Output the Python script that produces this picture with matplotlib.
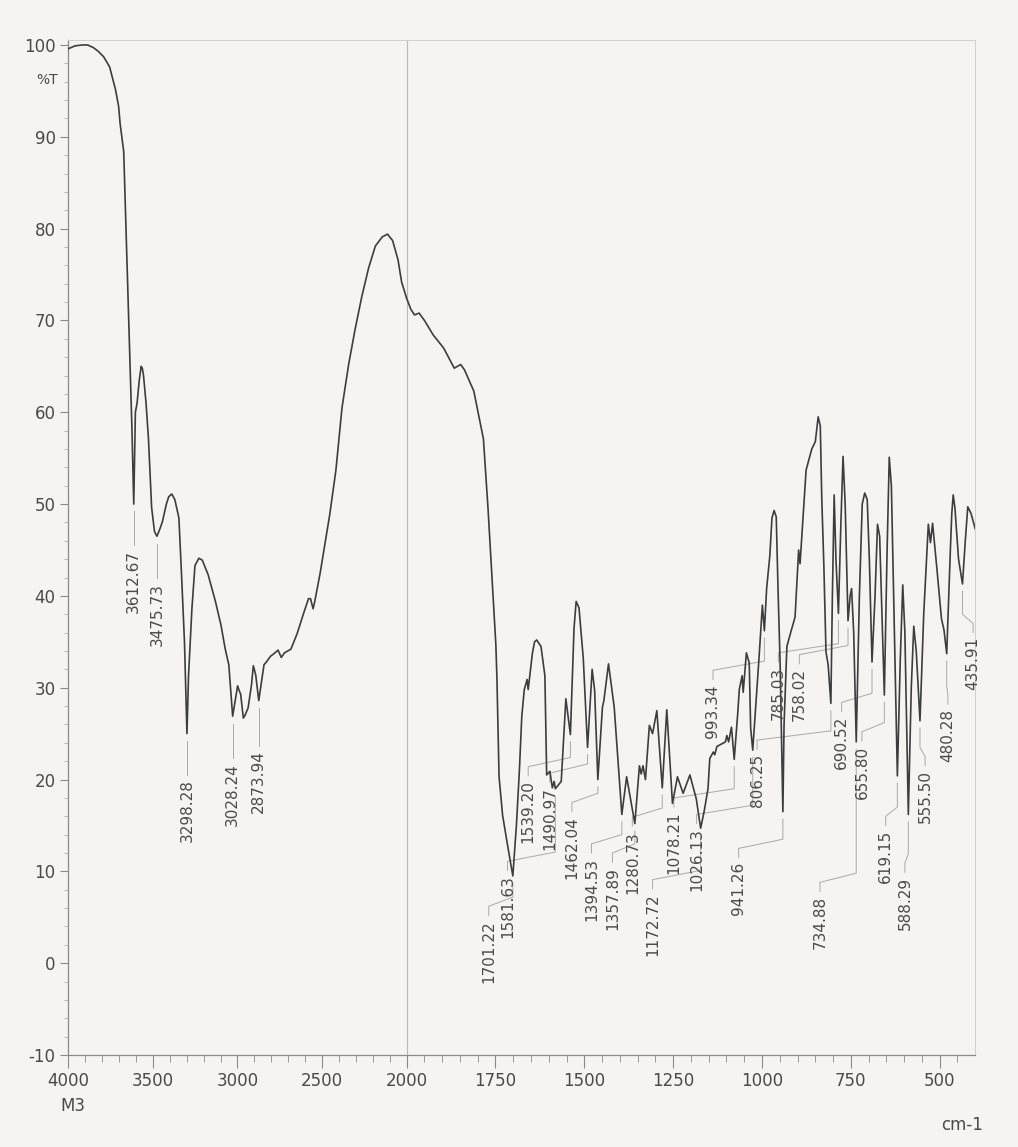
"""FTIR transmittance spectrum (4000-400 cm-1) with peak labels, Shimadzu-style layout."""

import numpy as np
import matplotlib

matplotlib.use("Agg")
import matplotlib.pyplot as plt

# Spectrum trace, wavenumber in cm-1 (descending) and %T
WAVENUMBER = [
    3998, 3960, 3917, 3885, 3850, 3822, 3790, 3755, 3720, 3702, 3693, 3672,
    3661, 3643, 3624, 3612.67, 3603, 3593, 3580, 3569, 3562, 3555, 3540, 3526,
    3507, 3490, 3475.73, 3460, 3443, 3420, 3406, 3388, 3370, 3346, 3330, 3313,
    3298.28, 3289, 3269, 3251, 3228, 3208, 3173, 3130, 3097, 3073, 3051,
    3028.24, 2999, 2990, 2981, 2965, 2955, 2946, 2937, 2917, 2906, 2892,
    2873.94, 2852, 2843, 2825, 2806, 2778, 2760, 2741, 2722, 2684, 2647, 2609,
    2580, 2568, 2553, 2544, 2511, 2455, 2418, 2382, 2342, 2305, 2265, 2225,
    2185, 2144, 2113, 2083, 2051, 2030, 2010, 2000,
    1988, 1978, 1965, 1950, 1925, 1896, 1866, 1848, 1837, 1811, 1784, 1771,
    1757, 1749, 1746, 1740, 1730, 1718, 1701.22, 1691, 1683, 1676, 1669, 1661,
    1658, 1646, 1640, 1634, 1622, 1611, 1606, 1597, 1590, 1585, 1581.63, 1565,
    1552, 1539.20, 1529, 1523, 1515, 1503, 1490.97, 1478, 1471, 1462.04, 1449,
    1445, 1432, 1416, 1394.53, 1381, 1357.89, 1345, 1340, 1335, 1328, 1317,
    1308, 1296, 1280.73, 1268, 1252, 1238, 1222, 1203, 1185, 1172.72, 1163,
    1152, 1147, 1137, 1133, 1127, 1103, 1099, 1094, 1086, 1078.21, 1068, 1064,
    1056, 1053, 1044, 1036, 1032, 1026.13, 1008, 999, 993.34, 987, 978, 972,
    966, 960, 955, 949, 944, 941.26, 938, 930, 918, 907, 897, 893, 876, 860,
    850, 842, 836, 832, 826, 820, 814, 806.25, 802, 797, 792, 785.03, 778, 772,
    766, 758.02, 752, 748, 742, 734.88, 726, 718, 711, 704, 698, 690.52, 682,
    675, 669, 655.80, 648, 642, 636, 619.15, 611, 604, 598, 588.29, 580, 573,
    566, 555.50, 545, 532, 526, 520, 508, 495, 488, 480.28, 470, 466, 462, 457,
    447, 435.91, 428, 421, 412, 400,
]
TRANSMITTANCE = [
    99.6, 99.9, 100.0, 100.0, 99.7, 99.3, 98.7, 97.6, 95.1, 93.3, 91.4, 88.4,
    81.5, 69.8, 58.6, 50.0, 60.0, 61.0, 63.5, 65.0, 64.8, 64.0, 61.0, 57.2,
    49.6, 47.0, 46.5, 47.2, 48.1, 50.0, 50.8, 51.1, 50.5, 48.5, 42.2, 35.0,
    25.0, 31.3, 38.6, 43.3, 44.1, 43.9, 42.3, 39.4, 36.8, 34.3, 32.5,
    26.9, 30.2, 29.7, 29.3, 26.7, 27.0, 27.4, 27.8, 30.3, 32.4, 31.4,
    28.6, 31.4, 32.5, 32.9, 33.4, 33.8, 34.1, 33.3, 33.8, 34.2, 35.9, 38.1,
    39.7, 39.7, 38.6, 39.3, 42.5, 48.8, 53.7, 60.5, 65.3, 69.0, 72.6, 75.7,
    78.1, 79.1, 79.4, 78.7, 76.6, 74.2, 73.0, 72.4,
    71.2, 70.6, 70.8, 70.0, 68.4, 67.0, 64.8, 65.2, 64.6, 62.3, 57.1, 49.5,
    40.2, 34.7, 31.1, 20.3, 16.1, 13.3, 9.5, 15.1, 20.8, 26.9, 29.8, 30.9,
    29.8, 33.8, 35.0, 35.2, 34.5, 31.3, 20.5, 20.9, 19.1, 19.8, 19.0, 19.8,
    28.8, 24.9, 36.5, 39.4, 38.7, 33.2, 23.5, 32.0, 29.7, 20.0, 27.9,
    28.6, 32.6, 27.9, 16.2, 20.3, 15.2, 21.5, 20.6, 21.5, 20.0, 25.9,
    25.0, 27.5, 19.1, 27.6, 17.4, 20.3, 18.5, 20.5, 17.9, 14.7, 16.5,
    19.0, 22.3, 23.0, 22.7, 23.6, 24.1, 24.8, 24.1, 25.7, 22.2, 27.4, 29.8,
    31.3, 29.5, 33.8, 32.7, 25.6, 23.2, 33.5, 39.0, 36.2, 40.8, 44.4, 48.5,
    49.3, 48.6, 40.8, 32.5, 22.0, 16.5, 26.0, 34.5, 36.2, 37.7, 45.0, 43.5,
    53.7, 56.0, 56.8, 59.5, 58.5, 50.8, 43.3, 33.9, 32.5, 28.3, 40.0, 51.0,
    44.0, 38.1, 48.0, 55.2, 50.0, 37.3, 40.0, 40.8, 36.0, 24.1, 40.0, 50.0,
    51.2, 50.5, 44.0, 32.8, 40.0, 47.8, 46.5, 29.2, 45.0, 55.1, 52.0, 20.4,
    33.0, 41.2, 36.0, 16.2, 30.0, 36.7, 34.0, 26.4, 38.0, 47.8, 45.8, 47.9,
    43.0, 37.5, 36.3, 33.7, 45.0, 49.0, 51.0, 49.5, 44.0, 41.3, 46.0, 49.7,
    49.0, 47.3,
]

# Labelled absorption minima (cm-1)
PEAKS = [
    3612.67, 3475.73, 3298.28, 3028.24, 2873.94, 1701.22, 1581.63, 1539.20,
    1490.97, 1462.04, 1394.53, 1357.89, 1280.73, 1172.72, 1078.21, 1026.13,
    993.34, 941.26, 806.25, 785.03, 758.02, 734.88, 690.52, 655.80, 619.15,
    588.29, 555.50, 480.28, 435.91,
]
# Where each label sits: x of the text (cm-1) and the %T of its top end
LABEL_X = [
    3612.67, 3475.73, 3298.28, 3028.24, 2873.94, 1769, 1716, 1658,
    1597, 1535, 1480, 1421, 1365, 1308, 1248, 1184,
    1138, 1066, 1014, 954, 895, 837, 776, 719, 652,
    598, 541, 477, 406,
]
LABEL_TOP = [
    45.0, 41.4, 20.0, 21.8, 23.2, 4.7, 9.6, 19.9,
    19.2, 16.0, 11.5, 10.5, 14.4, 7.6, 16.5, 14.7,
    30.4, 11.0, 22.8, 32.3, 32.1, 7.3, 26.9, 23.7, 14.5,
    9.4, 21.0, 27.7, 35.5,
]

MAJOR_X = [4000, 3500, 3000, 2500, 2000, 1750, 1500, 1250, 1000, 750, 500]
MINOR_X = [w for w in range(3900, 2000, -100)] + [w for w in range(1950, 400, -50)]
Y_TICKS = list(range(-10, 101, 10))

PAPER = "#f6f3f1"
INK = "#3d3d3d"
TEXT = "#4a4a4a"
AXIS = "#8a8a8a"
LEADER = "#a9a9a9"

STRETCH = 2.1  # below 2000 cm-1 the axis is expanded


def fwd(w):
    w = np.asarray(w, dtype=float)
    return np.where(w >= 2000, w, 2000 - STRETCH * (2000 - w))


def inv(p):
    p = np.asarray(p, dtype=float)
    return np.where(p >= 2000, p, 2000 - (2000 - p) / STRETCH)


def main() -> None:
    plt.rcParams["font.family"] = "DejaVu Sans"
    plt.rcParams["axes.unicode_minus"] = False

    fig = plt.figure(figsize=(10.18, 11.47), dpi=100, facecolor=PAPER)
    ax = fig.add_axes([0.067, 0.0802, 0.891, 0.8846])
    ax.set_facecolor(PAPER)
    ax.set_xscale("function", functions=(fwd, inv))

    ax.axvline(2000, color="#b8b8b8", lw=0.8, zorder=1)
    ax.plot(WAVENUMBER, TRANSMITTANCE, color=INK, lw=1.2, zorder=3)

    # peak labels with leader lines
    wn_arr = np.array(WAVENUMBER)[::-1]
    t_arr = np.array(TRANSMITTANCE)[::-1]
    peak_t = np.interp(PEAKS, wn_arr, t_arr)
    for wn, t, xt, top in zip(PEAKS, peak_t, LABEL_X, LABEL_TOP):
        knee = min(top + 2.5, t - 0.8)
        ax.plot([xt, xt, wn, wn], [top + 0.5, top + 1.5, knee, t - 0.8],
                color=LEADER, lw=0.7, zorder=2)
        ax.text(xt, top, f"{wn:.2f}", rotation=90, ha="center", va="top",
                fontsize=11, color=TEXT, zorder=4)

    ax.set_xlim(4000, 400)
    ax.set_ylim(-10, 100.5)
    ax.set_xticks(MAJOR_X)
    ax.set_xticklabels([str(v) for v in MAJOR_X])
    ax.set_xticks(MINOR_X, minor=True)
    ax.set_yticks(Y_TICKS)
    ax.set_yticks(list(range(-8, 100, 2)), minor=True)

    ax.tick_params(axis="x", which="major", direction="out", length=9, width=0.8,
                   color=AXIS, labelcolor=TEXT, labelsize=12, pad=3)
    ax.tick_params(axis="x", which="minor", direction="out", length=5, width=0.6,
                   color=AXIS)
    ax.tick_params(axis="y", which="major", direction="out", length=6, width=0.8,
                   color=AXIS, labelcolor=TEXT, labelsize=12, pad=3)
    ax.tick_params(axis="y", which="minor", direction="out", length=3, width=0.5,
                   color="#a0a0a0")

    for side in ("left", "bottom"):
        ax.spines[side].set_color(AXIS)
        ax.spines[side].set_linewidth(0.9)
    for side in ("top", "right"):
        ax.spines[side].set_color("#cfcfcf")
        ax.spines[side].set_linewidth(0.7)

    fig.text(0.057, 0.930, "%T", ha="right", va="center", fontsize=10, color=TEXT)
    fig.text(0.072, 0.036, "M3", ha="center", va="center", fontsize=12, color=TEXT)
    fig.text(0.945, 0.019, "cm-1", ha="center", va="center", fontsize=12, color=TEXT)

    fig.savefig("out.png", dpi=100, facecolor=PAPER)


if __name__ == "__main__":
    main()
